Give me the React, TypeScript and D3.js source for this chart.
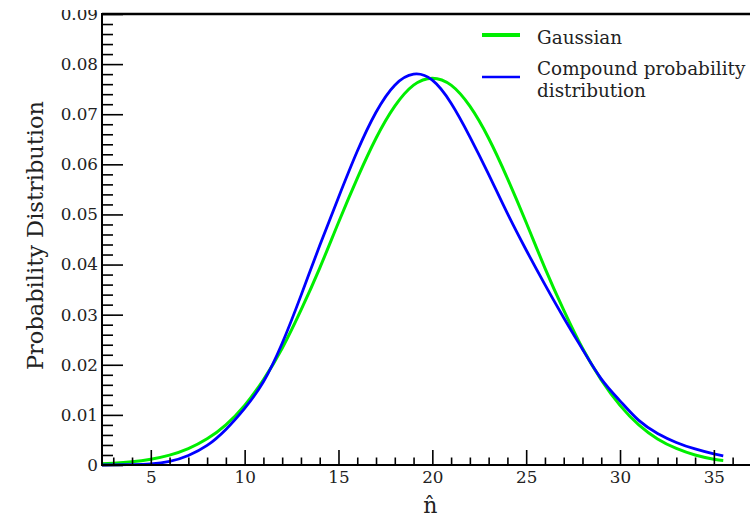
import { useEffect, useRef } from 'react';
import * as d3 from 'd3';

// ─── data ─────────────────────────────────────────────────────────────────────
const nHat = [
  2.4, 3, 4, 5, 6, 7, 8, 9, 10, 11, 12, 13, 14, 15, 16, 17, 18, 19, 20,
  21, 22, 23, 24, 25, 26, 27, 28, 29, 30, 31, 32, 33, 34, 35, 35.5,
];
const gaussian = [
  0.00024, 0.00035, 0.00064, 0.00115, 0.00197, 0.00327, 0.00522, 0.00802, 0.0119, 0.017,
  0.0233, 0.0309, 0.0393, 0.0484, 0.0572, 0.0652, 0.0716, 0.0758, 0.0772, 0.0758,
  0.0716, 0.0652, 0.0572, 0.0484, 0.0393, 0.0309, 0.0233, 0.017, 0.0119, 0.008,
  0.0052, 0.0033, 0.002, 0.00115, 0.0009,
];
const compound = [
  0, 0.00002, 0.00008, 0.00022, 0.0007, 0.0019, 0.0039, 0.0071, 0.0113, 0.0166,
  0.0243, 0.0338, 0.0438, 0.0534, 0.0626, 0.0704, 0.0758, 0.078, 0.0768, 0.0722,
  0.0655, 0.058, 0.0502, 0.0429, 0.036, 0.0294, 0.0231, 0.0172, 0.0128, 0.0089,
  0.0063, 0.0045, 0.0032, 0.0022, 0.0018,
];
const xMajorTicks = [5, 10, 15, 20, 25, 30, 35];
const yMajorTicks = [0, 0.01, 0.02, 0.03, 0.04, 0.05, 0.06, 0.07, 0.08, 0.09];
const legendItems = [
  { lines: ['Gaussian'], color: '#00ee00', width: 4 },
  { lines: ['Compound probability', 'distribution'], color: '#0000ff', width: 2.5 },
];

const FONT = '"DejaVu Serif", serif';

export default function App() {
  const svgRef = useRef<SVGSVGElement>(null);

  useEffect(() => {
    if (!svgRef.current) return;
    const W = 750;
    const H = 518;

    const svg = d3.select(svgRef.current).attr('width', W).attr('height', H);
    svg.selectAll('*').remove();

    // ── escalas ────────────────────────────────────────────────────────────────
    const x = d3.scaleLinear().domain([2.4, 37]).range([102, 751.4]);
    const y = d3.scaleLinear().domain([0, 0.09]).range([465, 14]);

    // la etiqueta 0.09 aparece recortada arriba en el original
    svg.append('defs').append('clipPath').attr('id', 'top-cut')
      .attr('clipPathUnits', 'userSpaceOnUse')
      .append('rect').attr('x', -W).attr('y', 10).attr('width', 3 * W).attr('height', H);

    // ── curvas ─────────────────────────────────────────────────────────────────
    const series = [
      { values: gaussian, color: '#00ee00', width: 3 },
      { values: compound, color: '#0000ff', width: 2.8 },
    ];
    series.forEach(s => {
      const line = d3.line<number>()
        .x((_, i) => x(nHat[i]))
        .y(d => y(d))
        .curve(d3.curveNatural);
      svg.append('path')
        .datum(s.values)
        .attr('fill', 'none')
        .attr('stroke', s.color)
        .attr('stroke-width', s.width)
        .attr('stroke-linejoin', 'round')
        .attr('d', line);
    });

    // ── ejes ───────────────────────────────────────────────────────────────────
    const styleAxis = (ax: any) => {
      ax.selectAll('line').attr('stroke', '#000').attr('stroke-width', 1.6);
      ax.selectAll('text').attr('fill', '#222').attr('font-family', FONT).attr('font-size', 16.8);
    };

    const xMinor = d3.range(3, 37, 1).filter(v => !xMajorTicks.includes(v));
    svg.append('g')
      .attr('transform', `translate(0,${y(0)})`)
      .call(d3.axisBottom(x).tickValues(xMinor).tickSize(-7.5).tickFormat(() => ''))
      .call(ax => ax.select('.domain').remove())
      .call(styleAxis);
    svg.append('g')
      .attr('transform', `translate(0,${y(0)})`)
      .call(d3.axisBottom(x).tickValues(xMajorTicks).tickSize(-15).tickPadding(6).tickFormat(d3.format('d')))
      .call(ax => ax.select('.domain').remove())
      .call(styleAxis);

    const notMajor = (v: number) => Math.abs(v * 100 - Math.round(v * 100)) > 1e-6;
    const yMinor = d3.range(0, 45).map(i => i * 0.002).filter(notMajor);
    svg.append('g')
      .attr('transform', `translate(${x(2.4)},0)`)
      .call(d3.axisLeft(y).tickValues(yMinor).tickSize(-11).tickFormat(() => ''))
      .call(ax => ax.select('.domain').remove())
      .call(styleAxis);
    svg.append('g')
      .attr('clip-path', 'url(#top-cut)')
      .append('g')
      .attr('transform', `translate(${x(2.4)},0)`)
      .call(d3.axisLeft(y).tickValues(yMajorTicks).tickSize(-21).tickPadding(4)
        .tickFormat(d => (+d === 0 ? '0' : d3.format('.2f')(+d))))
      .call(ax => ax.select('.domain').remove())
      .call(styleAxis);

    // marco: izquierda, abajo, arriba
    svg.append('line').attr('x1', x(2.4)).attr('x2', x(2.4)).attr('y1', y(0.09) - 1).attr('y2', y(0) + 1)
      .attr('stroke', '#000').attr('stroke-width', 2);
    svg.append('line').attr('x1', x(2.4)).attr('x2', W).attr('y1', y(0)).attr('y2', y(0))
      .attr('stroke', '#000').attr('stroke-width', 2);
    svg.append('line').attr('x1', x(2.4)).attr('x2', W).attr('y1', y(0.09)).attr('y2', y(0.09))
      .attr('stroke', '#000').attr('stroke-width', 2.4);

    // ── títulos ────────────────────────────────────────────────────────────────
    svg.append('text')
      .attr('transform', `translate(43,${(y(0) + y(0.09)) / 2 - 4}) rotate(-90)`)
      .attr('text-anchor', 'middle')
      .attr('font-family', FONT).attr('font-size', 22.5).attr('fill', '#222')
      .text('Probability Distribution');
    svg.append('text')
      .attr('x', x(20) - 2).attr('y', 513)
      .attr('text-anchor', 'middle')
      .attr('font-family', FONT).attr('font-size', 22).attr('fill', '#222')
      .text('n\u0302');

    // ── leyenda ────────────────────────────────────────────────────────────────
    const lg = svg.append('g');
    const lineY = [35, 77];
    const textY = [[44], [75, 97]];
    legendItems.forEach((it, i) => {
      lg.append('line')
        .attr('x1', 482).attr('x2', 520).attr('y1', lineY[i]).attr('y2', lineY[i])
        .attr('stroke', it.color).attr('stroke-width', it.width);
      it.lines.forEach((t, j) => {
        lg.append('text')
          .attr('x', 537).attr('y', textY[i][j])
          .attr('font-family', FONT).attr('font-size', 18.4).attr('fill', '#222')
          .text(t);
      });
    });
  }, []);

  return (
    <div style={{ position: 'fixed', left: 0, top: 0, width: 750, height: 518, background: '#fff' }}>
      <svg ref={svgRef} style={{ display: 'block' }} />
    </div>
  );
}
